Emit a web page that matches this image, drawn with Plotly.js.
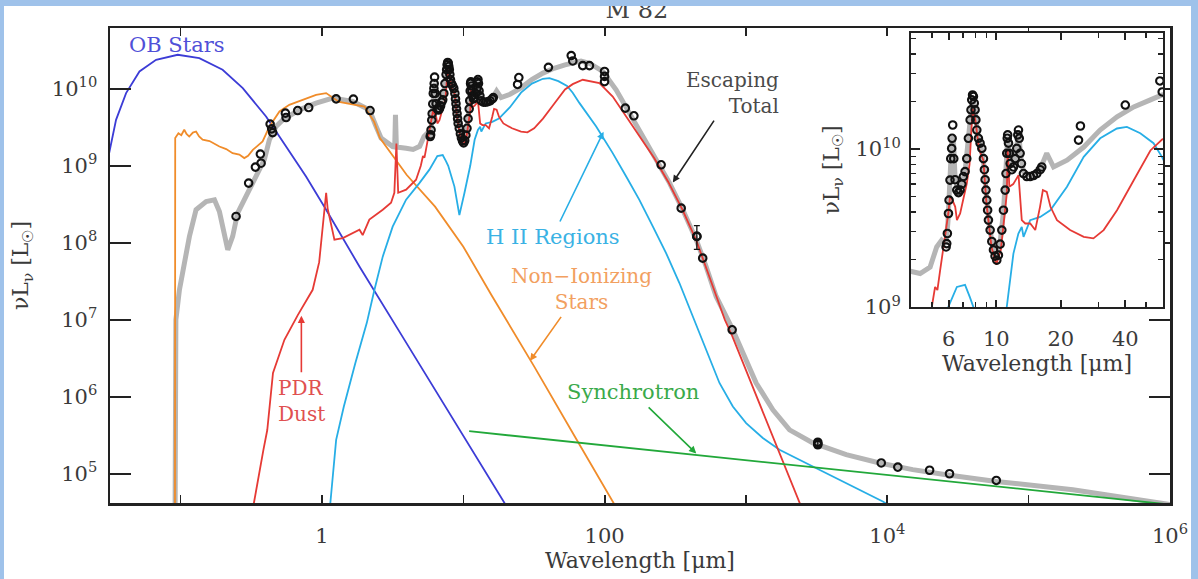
<!DOCTYPE html>
<html><head><meta charset="utf-8">
<script src="https://cdn.plot.ly/plotly-3.0.1.min.js"></script>
<style>
html,body{margin:0;padding:0;background:#fff;}
#wrap{position:relative;width:1198px;height:579px;overflow:hidden;}
#chart{width:1198px;height:579px;}
.band{position:absolute;background:#9fc2ea;z-index:10;}
</style></head><body>
<div id="wrap">
<div id="chart"></div>
<div class="band" style="left:0;top:0;width:1198px;height:6px"></div>
<div class="band" style="left:0;top:0;width:4px;height:579px"></div>
<div class="band" style="left:1191px;top:0;width:7px;height:579px"></div>
</div>
<script>
// ---------------- data (wavelength in micron, nu L_nu in L_sun) ----------------
const obWave = [0.0305, 0.0349, 0.0411, 0.0511, 0.0670, 0.0953, 0.1355, 0.198, 0.275, 0.402, 0.557, 0.771, 1.07, 1.84, 3.98, 10, 25];
const obLum  = [1.2e9, 3.95e9, 8.79e9, 1.68e10, 2.38e10, 2.77e10, 2.50e10, 1.77e10, 1.02e10, 4.37e9, 1.78e9, 7.26e8, 2.69e8, 4.92e7, 4.9e6, 3.1e5, 2.0e4];

const nonIonWave = [0.0911, 0.0915, 0.0964, 0.101, 0.106, 0.110, 0.115, 0.122, 0.1285, 0.135, 0.143, 0.160, 0.188, 0.210, 0.233, 0.260, 0.282, 0.300, 0.324, 0.380, 0.425, 0.500, 0.587, 0.729, 0.908, 1.07, 1.32, 2.0, 2.34, 2.57, 3.98, 6.31, 10, 15.8, 31.6, 63.1, 116, 160];
const nonIonLum  = [1e4, 2.3e9, 2.65e9, 2.5e9, 2.94e9, 2.6e9, 2.40e9, 2.7e9, 2.79e9, 2.4e9, 2.18e9, 2.1e9, 1.78e9, 1.65e9, 1.46e9, 1.4e9, 1.26e9, 1.35e9, 1.61e9, 2.07e9, 3.24e9, 5.08e9, 6.19e9, 7.19e9, 8.36e9, 8.79e9, 6.76e9, 5.89e9, 3.72e9, 2.29e9, 7.6e8, 2.95e8, 8.9e7, 2.1e7, 2.5e6, 2.8e5, 4.2e4, 1.5e4];

const totalWave = [0.0911, 0.0925, 0.098, 0.106, 0.1153, 0.1285, 0.1514, 0.1734, 0.188, 0.2153, 0.2333, 0.2529, 0.2904, 0.342, 0.391, 0.4246, 0.4732, 0.5272, 0.6918, 0.9078, 1.191, 1.648, 2.163, 2.415, 2.618, 3.162, 3.27, 3.31, 3.36, 3.936, 4.41, 4.91, 5.27, 5.56, 5.83, 5.95, 6.05, 6.2, 6.3, 6.42, 6.6, 6.9, 7.15, 7.4, 7.6, 7.75, 7.95, 8.2, 8.5, 8.8, 9.0, 9.3, 9.7, 10.05, 10.4, 10.8, 11.1, 11.3, 11.6, 12.0, 12.4, 12.7, 13.0, 13.4, 14.4, 15.5, 16.3, 17.2, 18.5, 21.4, 25.6, 30.5, 36.6, 43.8, 52.4, 59.4, 68, 78, 97, 120.5, 150, 186, 231, 288, 357, 445, 522, 615, 807, 1180, 1549, 2032, 2972, 5117, 8810, 15136, 26121, 59020, 205600, 756800, 1e6];
const totalLum  = [1e4, 1.0e7, 2.45e7, 5.45e7, 1.21e8, 2.69e8, 3.44e8, 3.61e8, 2.55e8, 8.11e7, 1.21e8, 2.43e8, 4.0e8, 7.26e8, 1.20e9, 2.18e9, 3.24e9, 3.95e9, 5.33e9, 6.52e9, 7.57e9, 6.84e9, 5.33e9, 3.24e9, 2.29e9, 1.78e9, 1.76e9, 4.6e9, 1.75e9, 1.69e9, 1.63e9, 1.79e9, 2.40e9, 2.65e9, 2.5e9, 3.5e9, 5.5e9, 1.15e10, 1.2e10, 6.6e9, 5.4e9, 6.0e9, 7.2e9, 1.15e10, 1.75e10, 2.15e10, 1.8e10, 1.2e10, 1.02e10, 7.5e9, 5.0e9, 3.2e9, 2.3e9, 2.0e9, 2.5e9, 4.0e9, 7.5e9, 1.2e10, 8.5e9, 7.8e9, 9.8e9, 1.3e10, 9.0e9, 7.2e9, 6.8e9, 7.1e9, 7.9e9, 9.4e9, 7.7e9, 8.5e9, 1.03e10, 1.32e10, 1.6e10, 1.85e10, 2.05e10, 2.2e10, 2.3e10, 2.15e10, 1.68e10, 9.7e9, 4.83e9, 2.40e9, 1.20e9, 5.96e8, 2.69e8, 1.09e8, 4.92e7, 2.01e7, 7.41e6, 1.51e6, 6.78e5, 3.72e5, 2.51e5, 1.77e5, 1.38e5, 1.13e5, 9.7e4, 7.94e4, 6.19e4, 4.27e4, 3.98e4];

const pdrWave = [0.30, 0.33, 0.385, 0.41, 0.45, 0.542, 0.674, 0.859, 0.955, 0.986, 1.04, 1.07, 1.096, 1.127, 1.224, 1.403, 1.563, 1.841, 1.94, 2.163, 2.69, 3.08, 3.25, 3.36, 3.46, 3.936, 4.63, 5.0, 5.18, 5.31, 5.47, 5.77, 5.97, 6.08, 6.2, 6.43, 6.55, 6.78, 7.03, 7.28, 7.5, 7.75, 8.0, 8.3, 8.7, 9.0, 9.5, 10.0, 10.5, 11.0, 11.2, 11.3, 11.5, 12.0, 12.7, 13.15, 13.65, 14.4, 15.2, 16.0, 16.5, 17.2, 17.9, 19.2, 22.1, 25.6, 28.4, 31.7, 36.6, 43.8, 52.4, 59.4, 70, 91.8, 114, 142, 178, 224, 282, 355, 447, 562, 708, 794, 1000, 1585, 2400, 2820];
const pdrLum  = [1e4, 4.2e4, 2.04e5, 3.7e5, 2.04e6, 5.5e6, 1.15e7, 2.45e7, 5.6e7, 1.0e8, 2.7e8, 4.47e8, 2.8e8, 2.19e8, 1.10e8, 1.15e8, 1.26e8, 1.48e8, 1.26e8, 2.0e8, 2.69e8, 3.31e8, 4.47e8, 1.95e9, 4.47e8, 4.9e8, 6.6e8, 1.0e9, 1.34e9, 1.28e9, 1.71e9, 2.78e9, 3.91e9, 4.99e9, 4.86e9, 4.31e9, 3.55e9, 3.91e9, 4.99e9, 6.05e9, 8.0e9, 1.8e10, 1.5e10, 1.0e10, 8.5e9, 4.5e9, 2.4e9, 1.85e9, 2.3e9, 4.5e9, 5.24e9, 1.0e10, 5.77e9, 6.0e9, 6.84e9, 3.55e9, 3.38e9, 3.38e9, 3.07e9, 4.31e9, 5.5e9, 5.36e9, 4.31e9, 3.55e9, 3.07e9, 2.78e9, 2.72e9, 3.07e9, 4.1e9, 6.35e9, 9.8e9, 1.15e10, 1.31e10, 1.19e10, 7.94e9, 4.37e9, 2.40e9, 1.26e9, 6.17e8, 2.69e8, 1.05e8, 3.16e7, 1.0e7, 6.3e6, 2.24e6, 2.75e5, 4.2e4, 2.0e4];

const hiiWave = [1.096, 1.146, 1.259, 1.426, 1.722, 2.075, 2.35, 2.69, 3.162, 3.936, 4.887, 5.754, 6.546, 7.145, 7.534, 7.816, 8.65, 9.376, 10.19, 11.19, 12.02, 12.68, 13.15, 13.4, 14.39, 16.03, 17.86, 21.38, 25.59, 30.55, 36.56, 40.7, 47.0, 54.2, 59.4, 66.4, 87.1, 114, 142, 176, 219, 272, 338, 420, 522, 649, 807, 1002, 1315, 1726, 2972, 5117, 9290, 11220];
const hiiLum  = [2e4, 4.2e4, 2.75e5, 7.41e5, 2.75e6, 9.12e6, 2.45e7, 6.61e7, 1.62e8, 3.63e8, 5.96e8, 8.91e8, 1.34e9, 1.38e9, 1.15e9, 1.0e9, 5.37e8, 2.29e8, 4.47e8, 1.0e9, 2.18e9, 2.92e9, 3.21e9, 2.78e9, 3.55e9, 3.72e9, 4.1e9, 5.77e9, 8.93e9, 1.17e10, 1.35e10, 1.38e10, 1.26e10, 1.09e10, 8.9e9, 6.52e9, 3.24e9, 1.46e9, 7.26e8, 3.61e8, 1.63e8, 7.35e7, 3.0e7, 1.1e7, 4.07e6, 1.51e6, 7.48e5, 4.55e5, 2.91e5, 2.05e5, 1.24e5, 7.57e4, 4.37e4, 3.5e4];

const syncWave = [11, 1000, 1e6];
const syncLum  = [3.57e5, 1.5e5, 3.98e4];

// Spitzer IRS spectrum points
const specWave = [5.83, 5.87, 5.91, 5.98, 6.02, 6.08, 6.13, 6.19, 6.22, 6.26, 6.33, 6.42, 6.54, 6.66, 6.78, 6.90, 7.02, 7.15, 7.28, 7.41, 7.55, 7.62, 7.68, 7.75, 7.82, 7.89, 7.96, 8.03, 8.11, 8.25, 8.40, 8.56, 8.71, 8.80, 8.87, 8.95, 9.03, 9.11, 9.19, 9.36, 9.53, 9.70, 9.87, 10.05, 10.23, 10.42, 10.61, 10.80, 11.0, 11.1, 11.19, 11.25, 11.3, 11.4, 11.5, 11.61, 11.82, 12.03, 12.24, 12.46, 12.6, 12.69, 12.8, 12.92, 13.1, 13.39, 13.88, 14.39, 14.92, 15.46, 16.03, 16.3];
const specLum  = [2.40e9, 2.52e9, 2.92e9, 3.91e9, 4.75e9, 6.36e9, 8.7e9, 1.01e10, 1.17e10, 1.42e10, 8.7e9, 6.4e9, 5.5e9, 5.3e9, 5.5e9, 6.0e9, 6.7e9, 7.2e9, 8.7e9, 1.17e10, 1.53e10, 1.77e10, 2.05e10, 2.2e10, 2.15e10, 1.95e10, 1.77e10, 1.53e10, 1.32e10, 1.17e10, 1.09e10, 1.01e10, 8.7e9, 7.4e9, 6.4e9, 5.5e9, 4.75e9, 4.1e9, 3.55e9, 3.07e9, 2.6e9, 2.3e9, 2.1e9, 1.98e9, 2.13e9, 2.5e9, 3.07e9, 4.1e9, 5.5e9, 7.0e9, 9.4e9, 1.17e10, 1.23e10, 1.09e10, 9.4e9, 8.1e9, 7.4e9, 7.7e9, 8.7e9, 1.01e10, 1.23e10, 1.32e10, 1.17e10, 9.4e9, 8.1e9, 7.0e9, 6.7e9, 6.7e9, 6.8e9, 7.0e9, 7.4e9, 7.7e9];

// photometric points
const photWave = [0.2466, 0.3027, 0.338, 0.3707, 0.3664, 0.4295, 0.4406, 0.4477, 0.557, 0.5508, 0.673, 0.805, 1.259, 1.667, 2.188, 24.2, 24.7, 40.0, 58.0, 59.5, 70, 78, 99.8, 99.8, 99.8, 140, 161, 251, 348, 449, 494, 798, 3221, 3221, 9057, 11860, 19910, 27540, 59020];
const photLum  = [2.20e8, 5.96e8, 9.62e8, 1.08e9, 1.42e9, 3.48e9, 3.02e9, 2.70e9, 4.24e9, 4.83e9, 5.22e9, 5.71e9, 7.41e9, 7.35e9, 5.22e9, 1.14e10, 1.40e10, 1.90e10, 2.7e10, 2.3e10, 2.0e10, 2.0e10, 1.68e10, 1.45e10, 1.24e10, 5.61e9, 4.46e9, 1.03e9, 2.82e8, 1.21e8, 6.32e7, 7.41e6, 2.38e5, 2.57e5, 1.38e5, 1.22e5, 1.11e5, 1.0e5, 8.18e4];

// points with error bars
const errWave  = [449, 3221];
const errLum   = [1.21e8, 2.45e5];
const errPlus  = [4.6e7, 3.0e4];
const errMinus = [3.9e7, 2.6e4];

// tick labels
const mainXTicks = [1, 100, 1e4, 1e6];
const mainXText  = ['1', '100', '10<sup>4</sup>', '10<sup>6</sup>'];
const mainXMinor = [0.1, 10, 1000, 1e5];
const mainYTicks = [1e5, 1e6, 1e7, 1e8, 1e9, 1e10];
const mainYText  = ['10<sup>5</sup>', '10<sup>6</sup>', '10<sup>7</sup>', '10<sup>8</sup>', '10<sup>9</sup>', '10<sup>10</sup>'];
const insetXTicks = [6, 10, 20, 40];
const insetXText  = ['6', '10', '20', '40'];
const insetXMinor = [5, 7, 8, 9, 30, 50];
const insetYTicks = [1e9, 1e10];
const insetYText  = ['10<sup>9</sup>', '10<sup>10</sup>'];
const insetYMinor = [2e9, 3e9, 4e9, 5e9, 6e9, 7e9, 8e9, 9e9, 2e10, 3e10, 4e10, 5e10];

// ---------------- figure ----------------
const FONT = '"DejaVu Serif", serif';
const TXT = '#3a3a3a';
const C = {gray:'#b5b5b5', ob:'#3c3cd6', orange:'#f08c2a', red:'#e63a35', blue:'#27aee6', green:'#22a83a'};

function line(x, y, color, width, xa, ya) {
  return {x:x, y:y, type:'scatter', mode:'lines', line:{color:color, width:width},
          xaxis:xa, yaxis:ya, hoverinfo:'skip', showlegend:false};
}
function pts(x, y, xa, ya) {
  return {x:x, y:y, type:'scatter', mode:'markers', xaxis:xa, yaxis:ya, showlegend:false,
          marker:{symbol:'circle-open', size:7.5, color:'#111', line:{width:2.1, color:'#111'}}};
}

const traces = [
  line(totalWave, totalLum, C.gray, 5, 'x', 'y'),
  line(obWave, obLum, C.ob, 1.8, 'x', 'y'),
  line(nonIonWave, nonIonLum, C.orange, 1.8, 'x', 'y'),
  line(hiiWave, hiiLum, C.blue, 1.8, 'x', 'y'),
  line(pdrWave, pdrLum, C.red, 1.8, 'x', 'y'),
  line(syncWave, syncLum, C.green, 1.8, 'x', 'y'),
  pts(specWave, specLum, 'x', 'y'),
  pts(photWave, photLum, 'x', 'y'),
  Object.assign(pts(errWave, errLum, 'x', 'y'), {error_y:{type:'data', symmetric:false, array:errPlus, arrayminus:errMinus, color:'#111', thickness:1.3, width:3}}),
  // inset
  line(totalWave, totalLum, C.gray, 5, 'x2', 'y2'),
  line(hiiWave, hiiLum, C.blue, 1.8, 'x2', 'y2'),
  line(pdrWave, pdrLum, C.red, 1.8, 'x2', 'y2'),
  pts(specWave, specLum, 'x2', 'y2'),
  pts(photWave, photLum, 'x2', 'y2')
];

const axisBase = {type:'log', showline:true, linecolor:'#222', linewidth:2.5, mirror:'ticks',
  ticks:'inside', tickcolor:'#222', tickwidth:2, showgrid:false, zeroline:false,
  tickfont:{family:FONT, size:21, color:TXT}};
const titleFont = {family:FONT, size:22, color:TXT};
function minor(vals, len) {
  return {tickmode:'array', tickvals:vals, ticks:'inside', ticklen:len, tickwidth:1.5, tickcolor:'#222', showgrid:false};
}

function label(x, y, text, color, opts) {
  return Object.assign({xref:'x', yref:'y', x:x, y:y, text:text, showarrow:false,
    font:{family:FONT, size:21, color:color}}, opts || {});
}
// text with an arrow from the text (tail) to the curve (head at x,y)
function arrowLabel(hx, hy, ax, ay, text, color, arrowColor, opts) {
  return Object.assign({xref:'x', yref:'y', x:hx, y:hy, ax:ax, ay:ay, text:text, showarrow:true,
    arrowhead:2, arrowsize:0.9, arrowwidth:1.6, arrowcolor:arrowColor, standoff:0, startstandoff:2,
    font:{family:FONT, size:21, color:color}}, opts || {});
}

const layout = {
  width:1198, height:579,
  margin:{l:110, r:28, t:28, b:76},
  paper_bgcolor:'#fff', plot_bgcolor:'#fff',
  showlegend:false,
  title:{text:'M 82', font:{family:FONT, size:24, color:'#444'}, x:0.497, xref:'paper', xanchor:'center', y:1-10/579, yref:'container', yanchor:'middle'},
  xaxis: Object.assign({}, axisBase, {range:[-1.5, 6], tickvals:mainXTicks, ticktext:mainXText, ticklen:8,
    minor:minor(mainXMinor, 8),
    ticklabelstandoff:12, title:{text:'Wavelength [μm]', font:titleFont, standoff:6}}),
  yaxis: Object.assign({}, axisBase, {range:[4.62, 10.79], tickvals:mainYTicks, ticktext:mainYText, ticklen:21,
    ticklabelstandoff:6, title:{text:'νL<sub>ν</sub> [L<sub>☉</sub>]', font:titleFont, standoff:17}}),
  xaxis2: Object.assign({}, axisBase, {domain:[0.7557, 0.9934], anchor:'y2', range:[Math.log10(4), Math.log10(60)],
    tickvals:insetXTicks, ticktext:insetXText, ticklen:7, linewidth:2, minor:minor(insetXMinor, 5),
    ticklabelstandoff:12, title:{text:'Wavelength [μm]', font:titleFont, standoff:4}}),
  yaxis2: Object.assign({}, axisBase, {domain:[0.4126, 0.9895], anchor:'x2', range:[9, 10.735],
    tickvals:insetYTicks, ticktext:insetYText, ticklen:9, linewidth:2, minor:minor(insetYMinor, 5),
    ticklabelstandoff:4, title:{text:'νL<sub>ν</sub> [L<sub>☉</sub>]', font:titleFont, standoff:10}}),
  annotations: [
    label(-1.377, 10.571, 'OB Stars', '#5050d8', {xanchor:'left'}),
    arrowLabel(2.482, 8.783, 60, -90, 'Escaping<br>Total', '#4a4a4a', '#222', {align:'right', font:{family:FONT, size:20, color:'#4a4a4a'}}),
    arrowLabel(1.992, 9.442, -51, 105, 'H II Regions', '#3ab2e4', '#27aee6'),
    arrowLabel(1.472, 6.468, 51, -72, 'Non−Ionizing<br>Stars', '#f2a060', '#f08c2a', {font:{family:FONT, size:20, color:'#f2a060'}}),
    arrowLabel(2.648, 5.264, -63, -61, 'Synchrotron', '#3aaa4a', '#22a83a'),
    arrowLabel(-0.146, 7.052, 0, 85, 'PDR<br>Dust', '#e05050', '#e63a35', {align:'left', font:{family:FONT, size:20, color:'#e05050'}})
  ]
};

Plotly.newPlot('chart', traces, layout, {staticPlot:true, displayModeBar:false});
</script>
</body></html>
